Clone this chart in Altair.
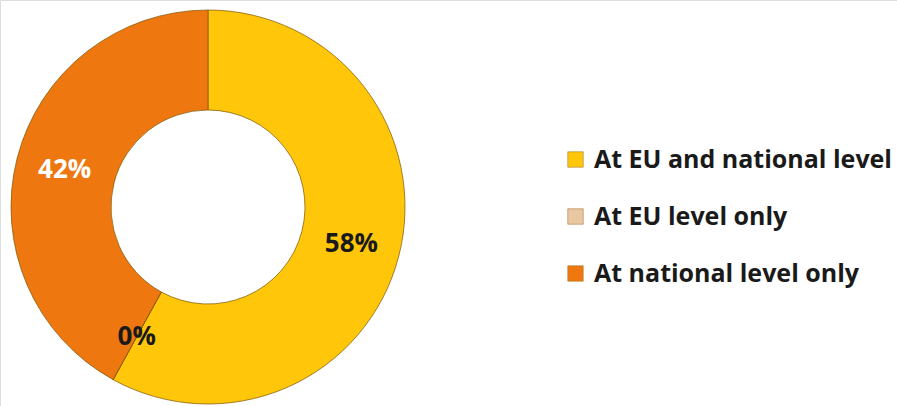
import altair as alt
import pandas as pd

categories = ["At EU and national level", "At EU level only", "At national level only"]
values = [58, 0, 42]
labels = ["58%", "0%", "42%"]
label_colors = ["#1a1a1a", "#1a1a1a", "white"]
colors = ["#FFC60A", "#E9C7A3", "#EE780F"]

df = pd.DataFrame({
    "category": categories,
    "value": values,
    "label": labels,
    "lc": label_colors,
    "order": [0, 1, 2],
})

base = alt.Chart(df).encode(
    theta=alt.Theta("value:Q", stack=True),
    order=alt.Order("order:Q"),
)

arcs = base.mark_arc(
    innerRadius=97, outerRadius=197, stroke="#7a5200", strokeWidth=1, strokeOpacity=0.7
).encode(
    x=alt.value(208),
    y=alt.value(207),
    color=alt.Color(
        "category:N",
        sort=categories,
        scale=alt.Scale(domain=categories, range=colors),
        legend=alt.Legend(
            title=None,
            orient="none",
            legendX=563,
            legendY=147,
            symbolType="square",
            symbolSize=240,
            symbolStrokeColor="#9a6a20",
            symbolStrokeWidth=0.5,
            labelFont="Open Sans",
            labelFontWeight="bold",
            labelFontSize=25,
            labelColor="#1a1a1a",
            rowPadding=31,
            labelOffset=6,
            labelLimit=400,
        ),
    ),
)

text = base.mark_text(
    radius=148, font="Open Sans", fontWeight="bold", fontSize=26
).encode(
    x=alt.value(208),
    y=alt.value(207),
    text="label:N",
    color=alt.Color("lc:N", scale=None),
)

chart = alt.layer(arcs, text).properties(
    width=897, height=406, padding=0, autosize=alt.AutoSizeParams(type="none")
).configure_view(stroke=None).configure(background="white")

chart.save("out.html", embed_options={"renderer": "svg", "actions": False})
